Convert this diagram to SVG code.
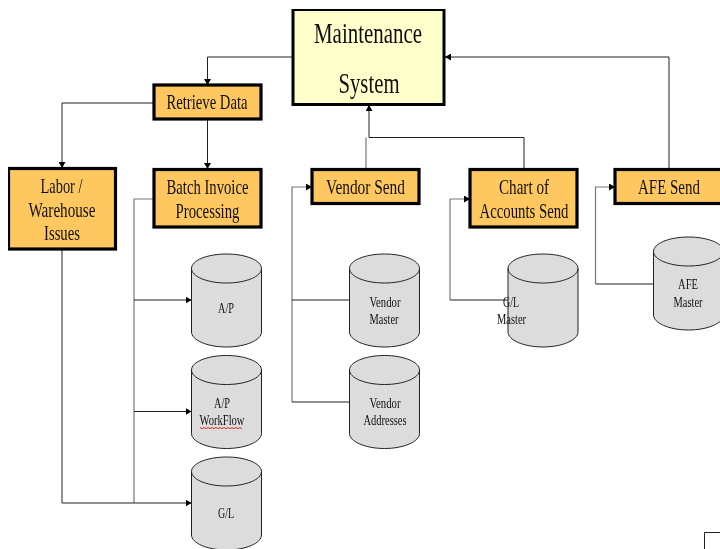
<svg xmlns="http://www.w3.org/2000/svg" width="720" height="549" viewBox="0 0 720 549">
<style>
text{font-family:"Liberation Serif","Times New Roman",serif;fill:#111;text-anchor:middle}
.m{font-size:30px}
.b{font-size:21px}
.c{font-size:15.500px}
.sys{fill:#ffffcc;stroke:#000;stroke-width:3}
.box{fill:#ffc760;stroke:#000;stroke-width:3.200}
.cyl{fill:#dcdcdc;stroke:#222;stroke-width:1}
.cap{fill:none;stroke:#222;stroke-width:1}
.ln{fill:none;stroke:#222;stroke-width:1}
.gr{fill:none;stroke:#777;stroke-width:1.200}
</style>
<defs>
<filter id="soft" x="0" y="0" width="100%" height="100%"><feGaussianBlur stdDeviation="0.35"/></filter>
<marker id="a" markerUnits="userSpaceOnUse" markerWidth="7" markerHeight="7" refX="6" refY="3.500" orient="auto"><path d="M0 0L6 3.500L0 7Z" fill="#000"/></marker>
<path id="cy" d="M0 14.500C0 6.500 15.600 0 35 0S70 6.500 70 14.500V78C70 86 54.400 93 35 93S0 86 0 78Z"/>
<path id="cp" d="M0 14.500C0 22.500 15.600 29 35 29S70 22.500 70 14.500"/>
</defs>
<rect width="720" height="549" fill="#fff"/>
<g filter="url(#soft)">
<g id="connectors">
<path class="ln" marker-end="url(#a)" d="M293 57H207.500V85"/>
<path class="ln" marker-end="url(#a)" d="M154 103H62V168"/>
<path class="ln" marker-end="url(#a)" d="M207.500 119V169"/>
<path class="gr" d="M154 199H134V503"/>
<path class="ln" marker-end="url(#a)" d="M134 300H191.500"/>
<path class="ln" marker-end="url(#a)" d="M134 411.500H191.500"/>
<path class="ln" marker-end="url(#a)" d="M62 249V503H191.500"/>
<path class="gr" marker-end="url(#a)" d="M292 402V187H312"/>
<path class="ln" d="M292 300H350M292 402H350"/>
<path class="gr" d="M366 169V137.500"/>
<path class="ln" d="M524 169V137.500H369"/>
<path class="ln" marker-end="url(#a)" d="M369 137.500V105"/>
<path class="ln" marker-end="url(#a)" d="M669 169V57H445"/>
<path class="gr" marker-end="url(#a)" d="M450 300V199H470"/>
<path class="ln" d="M450 300H508"/>
<path class="gr" marker-end="url(#a)" d="M595.500 284V187H615"/>
<path class="ln" d="M595.500 284H654"/>
<path d="M704.500 549V532.500H720" fill="none" stroke="#222" stroke-width="1"/>
</g>
<g id="maintenance"><rect class="sys" x="293" y="9.500" width="151" height="95"/>
<text class="m" x="368" y="42.500" textLength="108" lengthAdjust="spacingAndGlyphs">Maintenance</text>
<text class="m" x="369" y="93" textLength="61" lengthAdjust="spacingAndGlyphs">System</text></g>
<g id="retrieve"><rect class="box" x="154" y="85" width="107" height="34"/>
<text class="b" x="207" y="109" textLength="81" lengthAdjust="spacingAndGlyphs">Retrieve Data</text></g>
<g id="labor"><rect class="box" x="8.500" y="168.500" width="107" height="80.500"/>
<text class="b" x="61.500" y="193" textLength="42" lengthAdjust="spacingAndGlyphs">Labor /</text>
<text class="b" x="62" y="217" textLength="67" lengthAdjust="spacingAndGlyphs">Warehouse</text>
<text class="b" x="62" y="240" textLength="36" lengthAdjust="spacingAndGlyphs">Issues</text></g>
<g id="batch"><rect class="box" x="154" y="169.500" width="107" height="57.500"/>
<text class="b" x="207.500" y="194" textLength="82" lengthAdjust="spacingAndGlyphs">Batch Invoice</text>
<text class="b" x="207.500" y="218" textLength="64" lengthAdjust="spacingAndGlyphs">Processing</text></g>
<g id="vendor-send"><rect class="box" x="312" y="169.500" width="107" height="34"/>
<text class="b" x="365.500" y="194" textLength="79" lengthAdjust="spacingAndGlyphs">Vendor Send</text></g>
<g id="chart"><rect class="box" x="470" y="169.500" width="107" height="57.500"/>
<text class="b" x="524" y="194" textLength="50" lengthAdjust="spacingAndGlyphs">Chart of</text>
<text class="b" x="524" y="218" textLength="89" lengthAdjust="spacingAndGlyphs">Accounts Send</text></g>
<g id="afe-send"><rect class="box" x="615" y="169.500" width="108" height="34"/>
<text class="b" x="669" y="194" textLength="62" lengthAdjust="spacingAndGlyphs">AFE Send</text></g>
<g id="ap"><g transform="translate(191.500 254)"><use href="#cy" class="cyl"/><use href="#cp" class="cap"/></g>
<text class="c" x="226" y="313" textLength="16" lengthAdjust="spacingAndGlyphs">A/P</text></g>
<g id="ap-workflow"><g transform="translate(191.500 355.500)"><use href="#cy" class="cyl"/><use href="#cp" class="cap"/></g>
<text class="c" x="222" y="408" textLength="16" lengthAdjust="spacingAndGlyphs">A/P</text>
<text class="c" x="222" y="425" textLength="45" lengthAdjust="spacingAndGlyphs">WorkFlow</text>
<path d="M200 427.500l2 1.200 2-1.200 2 1.200 2-1.200 2 1.200 2-1.200 2 1.200 2-1.200 2 1.200 2-1.200 2 1.200 2-1.200 2 1.200 2-1.200 2 1.200 2-1.200 2 1.200 2-1.200 2 1.200 2-1.200 2 1.200" fill="none" stroke="#d83030" stroke-width="1"/></g>
<g id="gl"><g transform="translate(191.500 457)"><use href="#cy" class="cyl"/><use href="#cp" class="cap"/></g>
<text class="c" x="226" y="518" textLength="16" lengthAdjust="spacingAndGlyphs">G/L</text></g>
<g id="vendor-master"><g transform="translate(349.500 254)"><use href="#cy" class="cyl"/><use href="#cp" class="cap"/></g>
<text class="c" x="385" y="306.500" textLength="31" lengthAdjust="spacingAndGlyphs">Vendor</text>
<text class="c" x="384" y="324" textLength="29" lengthAdjust="spacingAndGlyphs">Master</text></g>
<g id="vendor-addresses"><g transform="translate(349.500 355.500)"><use href="#cy" class="cyl"/><use href="#cp" class="cap"/></g>
<text class="c" x="385" y="408" textLength="31" lengthAdjust="spacingAndGlyphs">Vendor</text>
<text class="c" x="385" y="425" textLength="43" lengthAdjust="spacingAndGlyphs">Addresses</text></g>
<g id="gl-master"><g transform="translate(508 254)"><use href="#cy" class="cyl"/><use href="#cp" class="cap"/></g>
<text class="c" x="511" y="306.500" textLength="16" lengthAdjust="spacingAndGlyphs">G/L</text>
<text class="c" x="511.500" y="324" textLength="29" lengthAdjust="spacingAndGlyphs">Master</text></g>
<g id="afe-master"><g transform="translate(653.500 237)"><use href="#cy" class="cyl"/><use href="#cp" class="cap"/></g>
<text class="c" x="688" y="289" textLength="20" lengthAdjust="spacingAndGlyphs">AFE</text>
<text class="c" x="688" y="306.500" textLength="29" lengthAdjust="spacingAndGlyphs">Master</text></g>
</g>
</svg>
